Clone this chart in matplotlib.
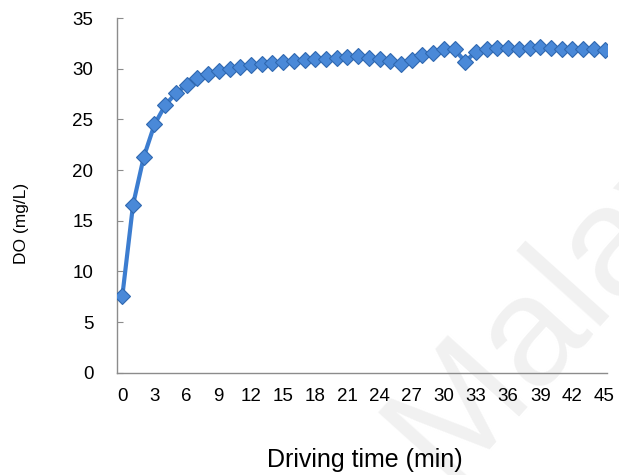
import matplotlib
matplotlib.use('Agg')
import matplotlib.pyplot as plt

plt.rcParams['font.family'] = ['Liberation Sans', 'DejaVu Sans']

time_min = list(range(0, 46))
do_mgl = [7.6, 16.6, 21.3, 24.5, 26.4, 27.6, 28.4, 29.1, 29.5, 29.8,
          30.0, 30.2, 30.4, 30.5, 30.6, 30.7, 30.8, 30.9, 31.0, 31.0,
          31.1, 31.2, 31.3, 31.1, 31.0, 30.8, 30.5, 30.9, 31.4, 31.6,
          31.9, 31.9, 30.7, 31.7, 31.9, 32.0, 32.0, 31.9, 32.0, 32.1,
          32.0, 31.9, 31.9, 31.9, 31.9, 31.8]
xticks = list(range(0, 46, 3))
yticks = list(range(0, 36, 5))

fig = plt.figure(figsize=(6.19, 4.75), dpi=100)
ax = fig.add_axes([0.189, 0.215, 0.792, 0.747])
ax.set_zorder(1)
ax.patch.set_alpha(0)

# faint watermark behind the chart
fig.text(0.72, -0.02, 'Malaya', rotation=48, rotation_mode='anchor',
         ha='left', va='baseline', fontsize=112, color='#f1f1f1', zorder=0)

ax.plot(time_min, do_mgl, color='#3C7DD0', lw=3, marker='D', markersize=8.5,
        markerfacecolor='#4A89D8', markeredgecolor='#2F68B0', markeredgewidth=0.8,
        zorder=3)

ax.set_xlim(-0.5, 45.25)
ax.set_ylim(0, 35)
ax.set_xticks(xticks)
ax.set_yticks(yticks)

for s in ['top', 'right']:
    ax.spines[s].set_visible(False)
for s in ['left', 'bottom']:
    ax.spines[s].set_color('#8c8c8c')
    ax.spines[s].set_linewidth(1)

ax.tick_params(axis='y', direction='in', length=4, color='#8c8c8c', pad=17, labelsize=13.5)
ax.tick_params(axis='x', length=0, pad=11, labelsize=13.5)

ax.set_xlabel('Driving time (min)', fontsize=18)
ax.xaxis.set_label_coords(0.506, -0.245)
ax.xaxis.label.set_verticalalignment('center')
ax.set_ylabel('DO (mg/L)', fontsize=12.5)
ax.yaxis.set_label_coords(-0.194, 0.42)
ax.yaxis.label.set_verticalalignment('center')

fig.savefig('out.png', dpi=100)
